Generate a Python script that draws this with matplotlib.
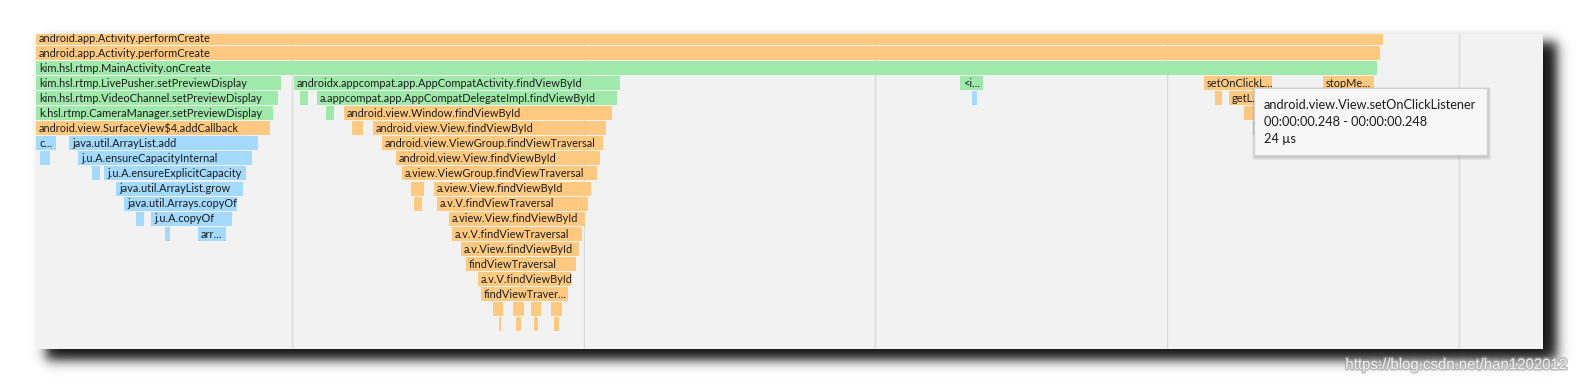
import numpy as np
import matplotlib
matplotlib.use("Agg")
import matplotlib.pyplot as plt
from matplotlib import patheffects as pe
from matplotlib.patches import Rectangle

# ---------------- data (start, end in timeline px units; row = depth) ----------------
rows = [0, 1, 2,
        3, 3, 3, 3, 3,
        4, 4, 4, 4, 4, 4,
        5, 5, 5, 5,
        6, 6, 6, 6,
        7, 7, 7,
        8, 8, 8,
        9, 9, 9,
        10, 10, 10,
        11, 11, 11,
        12, 12, 12,
        13, 13, 13,
        14, 15, 16, 17,
        18, 18, 18, 18,
        19, 19, 19, 19]
starts = [36, 36, 36,
          36, 294, 960, 1204, 1323,
          36, 300, 317, 972, 1215, 1229,
          36, 326, 344, 1244,
          36, 352, 373, 1253,
          36, 69, 382,
          40, 78, 396,
          92, 104, 402,
          116, 411, 434,
          124, 414, 437,
          136, 151, 449,
          165, 198, 452,
          461, 466, 478, 481,
          493, 513, 531, 551,
          499, 516, 534, 554]
ends = [1383, 1380, 1377,
        281, 620, 983, 1272, 1374,
        278, 308, 617, 977, 1222, 1262,
        273, 334, 612, 1256,
        270, 363, 606, 1256,
        56, 258, 603,
        50, 252, 600,
        100, 246, 597,
        243, 424, 591,
        237, 422, 588,
        144, 232, 585,
        170, 226, 582,
        579, 576, 571, 568,
        503, 524, 541, 562,
        500.5, 521, 538, 559]
kinds = ["O", "O", "G",
         "G", "G", "G", "O", "O",
         "G", "G", "G", "B", "O", "O",
         "G", "G", "O", "O",
         "O", "O", "O", "B",
         "B", "B", "O",
         "B", "B", "O",
         "B", "B", "O",
         "B", "O", "O",
         "B", "O", "O",
         "B", "B", "O",
         "B", "B", "O",
         "O", "O", "O", "O",
         "O", "O", "O", "O",
         "O", "O", "O", "O"]
labels = ["android.app.Activity.performCreate", "android.app.Activity.performCreate",
          "kim.hsl.rtmp.MainActivity.onCreate",
          "kim.hsl.rtmp.LivePusher.setPreviewDisplay",
          "androidx.appcompat.app.AppCompatActivity.findViewById", "<i...",
          "setOnClickL...", "stopMe...",
          "kim.hsl.rtmp.VideoChannel.setPreviewDisplay", "",
          "a.appcompat.app.AppCompatDelegateImpl.findViewById", "", "", "getL...",
          "k.hsl.rtmp.CameraManager.setPreviewDisplay", "", "android.view.Window.findViewById", "",
          "android.view.SurfaceView$4.addCallback", "", "android.view.View.findViewById", "",
          "c...", "java.util.ArrayList.add", "android.view.ViewGroup.findViewTraversal",
          "", "j.u.A.ensureCapacityInternal", "android.view.View.findViewById",
          "", "j.u.A.ensureExplicitCapacity", "a.view.ViewGroup.findViewTraversal",
          "java.util.ArrayList.grow", "", "a.view.View.findViewById",
          "java.util.Arrays.copyOf", "", "a.v.V.findViewTraversal",
          "", "j.u.A.copyOf", "a.view.View.findViewById",
          "", "arr...", "a.v.V.findViewTraversal",
          "a.v.View.findViewById", "findViewTraversal", "a.v.V.findViewById", "findViewTraver...",
          "", "", "", "",
          "", "", "", ""]
grid_x = [292, 583.5, 875, 1167, 1459]

tooltip_lines = ["android.view.View.setOnClickListener",
                 "00:00:00.248 - 00:00:00.248",
                 "24 \u00b5s"]
watermark = "https://blog.csdn.net/han1202012"

palette = {"O": "#FFCA80", "G": "#9FEAAB", "B": "#A3DAFE"}

# ---------------- figure ----------------
W, H = 1578, 385
fig = plt.figure(figsize=(W / 100, H / 100), dpi=100)
fig.patch.set_facecolor("white")

# background layer with the drop shadow of the panel
bg = fig.add_axes([0, 0, 1, 1])
xx = np.arange(W) + 0.5
yy = np.arange(H) + 0.5


def edge(v, a, b, s):
    return 0.5 * (np.tanh((v - a) / s) - np.tanh((v - b) / s))


alpha = np.outer(edge(yy, 42, 360, 7), edge(xx, 46, 1557, 7)) * 0.93
img = np.zeros((H, W, 4))
img[..., 3] = alpha
bg.imshow(img, extent=(0, W, H, 0), interpolation="bilinear", aspect="auto")
bg.set_xlim(0, W)
bg.set_ylim(H, 0)
bg.axis("off")

# main flame chart panel
px0, px1, py0, py1 = 36, 1543, 34, 349
ax = fig.add_axes([px0 / W, 1 - py1 / H, (px1 - px0) / W, (py1 - py0) / H])
ax.set_facecolor("#f2f2f2")
pitch, row0_top = 15.06, 30.94
ax.set_xlim(px0, px1)
ax.set_ylim((py1 - row0_top) / pitch, (py0 - row0_top) / pitch)
for s in ax.spines.values():
    s.set_visible(False)
ax.set_xticks([])
ax.set_yticks([])

for gx in grid_x:
    ax.axvline(gx, color="#dcdcdc", lw=1, zorder=0)

bar_h = 14 / pitch
ax.barh(rows, np.array(ends) - np.array(starts), left=starts, height=bar_h,
        align="edge", color=[palette[k] for k in kinds], zorder=2, linewidth=0)

for r, s0, lab in zip(rows, starts, labels):
    if lab:
        ax.text(s0 + 3, r + bar_h / 2 + 0.02, lab, va="center", ha="left",
                fontsize=7.9, family=["Lato", "DejaVu Sans"], color="#1c1c1c",
                zorder=3, clip_on=True)

# overlay: tooltip and watermark
ov = fig.add_axes([0, 0, 1, 1])
ov.set_xlim(0, W)
ov.set_ylim(H, 0)
ov.axis("off")
ov.patch.set_alpha(0)

tx0, ty0, tx1, ty1 = 1254, 88, 1487, 155
for i, a in enumerate([0.05, 0.05, 0.06]):
    d = 3 - i
    ov.add_patch(Rectangle((tx0 - d + 1, ty0 - d + 2), tx1 - tx0 + 2 * d, ty1 - ty0 + 2 * d,
                           facecolor="black", alpha=a, linewidth=0, zorder=5))
ov.add_patch(Rectangle((tx0, ty0), tx1 - tx0, ty1 - ty0, facecolor="#f7f7f7",
                       edgecolor="#d0d0d0", linewidth=0.8, zorder=6))
for i, line in enumerate(tooltip_lines):
    ov.text(1264, 105 + i * 17, line, va="center", ha="left", fontsize=9.2,
            family=["Lato", "DejaVu Sans"], color="#1c1c1c", zorder=7)

ov.text(1568, 365, watermark, ha="right", va="center", fontsize=10.8,
        family="Liberation Sans", color="#eeeeee", zorder=7,
        path_effects=[pe.withStroke(linewidth=2.2, foreground="#9a9a9a", alpha=0.6)])

fig.savefig("out.png", dpi=100, facecolor="white")
